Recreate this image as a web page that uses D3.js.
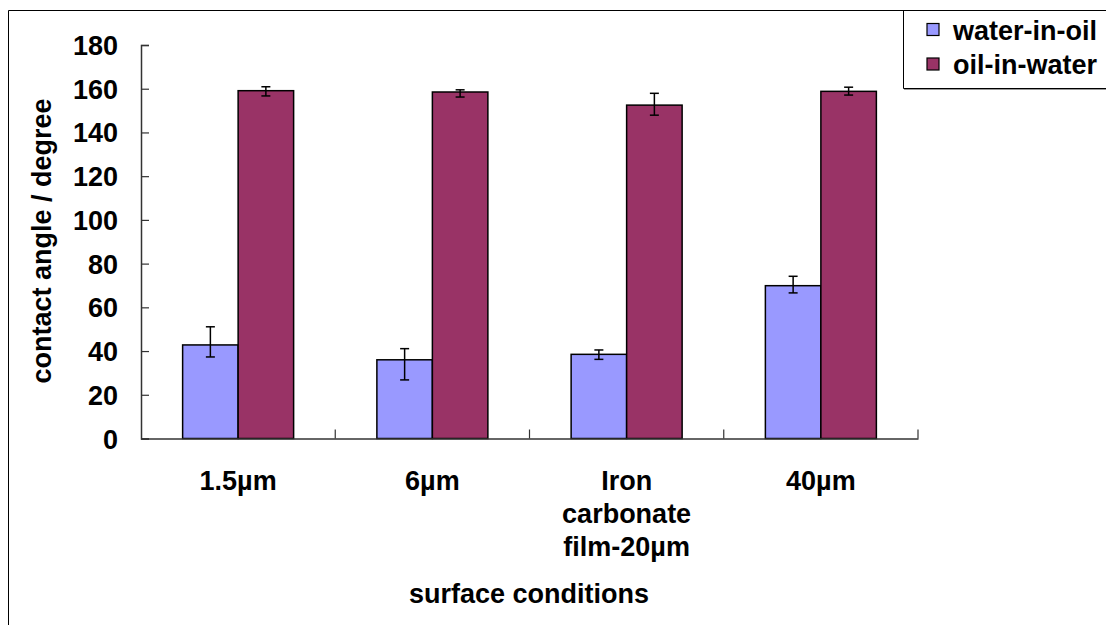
<!DOCTYPE html>
<html lang="en">
<head>
    <meta charset="UTF-8">
    <title>contact angle</title>
    <script src="https://cdn.jsdelivr.net/npm/d3@7"></script>
    <style>
        body { margin: 0; background: #fff; }
        svg { display: block; }
        text { font-family: "Liberation Sans", Arial, sans-serif; font-weight: bold; fill: #000; }
    </style>
</head>
<body>
    <svg width="1106" height="625"></svg>
    <script>
        // data
        const categories = ["1.5µm", "6µm", "Iron carbonate film-20µm", "40µm"];
        const categoryLines = [["1.5µm"], ["6µm"], ["Iron", "carbonate", "film-20µm"], ["40µm"]];
        const seriesNames = ["water-in-oil", "oil-in-water"];
        const waterInOil = [42.8, 36.0, 38.5, 69.9];
        const waterUp = [8.3, 5.1, 2.0, 4.3];
        const waterDown = [5.5, 9.2, 2.3, 3.3];
        const oilInWater = [159.1, 158.5, 152.5, 158.8];
        const oilUp = [1.8, 1.0, 5.4, 1.9];
        const oilDown = [2.4, 2.3, 4.6, 1.7];
        const yTicks = [0, 20, 40, 60, 80, 100, 120, 140, 160, 180];
        const colors = ["#9999FF", "#993366"];

        const svg = d3.select("svg");
        const plotLeft = 141, plotRight = 918, plotTop = 45, plotBottom = 438.5;

        const x = d3.scaleBand().domain(categories).range([plotLeft, plotRight]);
        const y = d3.scaleLinear().domain([0, 180]).range([plotBottom, plotTop]);
        const barW = x.bandwidth() * 0.2857;

        // outer frame
        svg.append("path")
            .attr("d", "M8.5,625 V10.5 H1106")
            .attr("fill", "none").attr("stroke", "#000").attr("stroke-width", 1);

        // bars
        const series = [
            { vals: waterInOil, up: waterUp, down: waterDown, off: -1 },
            { vals: oilInWater, up: oilUp, down: oilDown, off: 0 }
        ];
        series.forEach((s, si) => {
            const g = svg.append("g");
            categories.forEach((c, i) => {
                const bx = x(c) + x.bandwidth() / 2 + s.off * barW;
                g.append("rect")
                    .attr("x", bx).attr("y", y(s.vals[i]))
                    .attr("width", barW).attr("height", y(0) - y(s.vals[i]))
                    .attr("fill", colors[si]).attr("stroke", "#000").attr("stroke-width", 1.5);
            });
        });

        // error bars
        series.forEach(s => {
            categories.forEach((c, i) => {
                const ex = x(c) + x.bandwidth() / 2 + s.off * barW + barW / 2;
                const y1 = y(s.vals[i] + s.up[i]), y2 = y(s.vals[i] - s.down[i]);
                const g = svg.append("g").attr("stroke", "#000").attr("stroke-width", 1.5);
                g.append("line").attr("x1", ex).attr("x2", ex).attr("y1", y1).attr("y2", y2);
                g.append("line").attr("x1", ex - 4.5).attr("x2", ex + 4.5).attr("y1", y1).attr("y2", y1);
                g.append("line").attr("x1", ex - 4.5).attr("x2", ex + 4.5).attr("y1", y2).attr("y2", y2);
            });
        });

        // y axis, ticks point inward
        const yAxis = svg.append("g")
            .attr("transform", `translate(${plotLeft},0)`)
            .call(d3.axisRight(y).tickValues(yTicks).tickSize(8).tickFormat(""));
        yAxis.select(".domain").attr("stroke", "#333").attr("stroke-width", 1.5);
        yAxis.selectAll(".tick line").attr("stroke", "#333").attr("stroke-width", 1.2);
        yTicks.forEach(t => {
            svg.append("text").attr("x", 118).attr("y", y(t) + 10)
                .attr("text-anchor", "end").style("font-size", "27px").text(t);
        });

        // x axis with category dividers
        const xAxis = svg.append("g")
            .attr("transform", `translate(0,${plotBottom})`)
            .call(d3.axisTop(x).tickSize(0).tickFormat(""));
        xAxis.select(".domain").attr("stroke", "#333").attr("stroke-width", 1.5);
        xAxis.selectAll(".tick").remove();
        categories.forEach((c, i) => {
            svg.append("line")
                .attr("x1", x(c) + x.bandwidth()).attr("x2", x(c) + x.bandwidth())
                .attr("y1", plotBottom).attr("y2", plotBottom - 9)
                .attr("stroke", "#333").attr("stroke-width", 1.2);
            const t = svg.append("text")
                .attr("x", x(c) + x.bandwidth() / 2).attr("y", 490)
                .attr("text-anchor", "middle").style("font-size", "27px");
            categoryLines[i].forEach((ln, j) => {
                t.append("tspan").attr("x", x(c) + x.bandwidth() / 2)
                    .attr("dy", j === 0 ? 0 : 33).text(ln);
            });
        });

        // axis titles
        svg.append("text").attr("x", 529).attr("y", 603)
            .attr("text-anchor", "middle").style("font-size", "27px").text("surface conditions");
        svg.append("text")
            .attr("transform", "translate(51,241) rotate(-90)")
            .attr("text-anchor", "middle").style("font-size", "27px").text("contact angle / degree");

        // legend
        svg.append("path")
            .attr("d", "M903.5,10.5 V88.5 H1106")
            .attr("fill", "none").attr("stroke", "#000").attr("stroke-width", 1);
        svg.append("line").attr("x1", 904).attr("x2", 1106).attr("y1", 89.5).attr("y2", 89.5)
            .attr("stroke", "#999").attr("stroke-width", 1);
        seriesNames.forEach((n, i) => {
            const ly = 23.5 + i * 34.5;
            svg.append("rect").attr("x", 927).attr("y", ly).attr("width", 12).attr("height", 12)
                .attr("fill", colors[i]).attr("stroke", "#000").attr("stroke-width", 1.2);
            svg.append("text").attr("x", 953).attr("y", ly + 16)
                .style("font-size", "27px").text(n);
        });
    </script>
</body>
</html>
